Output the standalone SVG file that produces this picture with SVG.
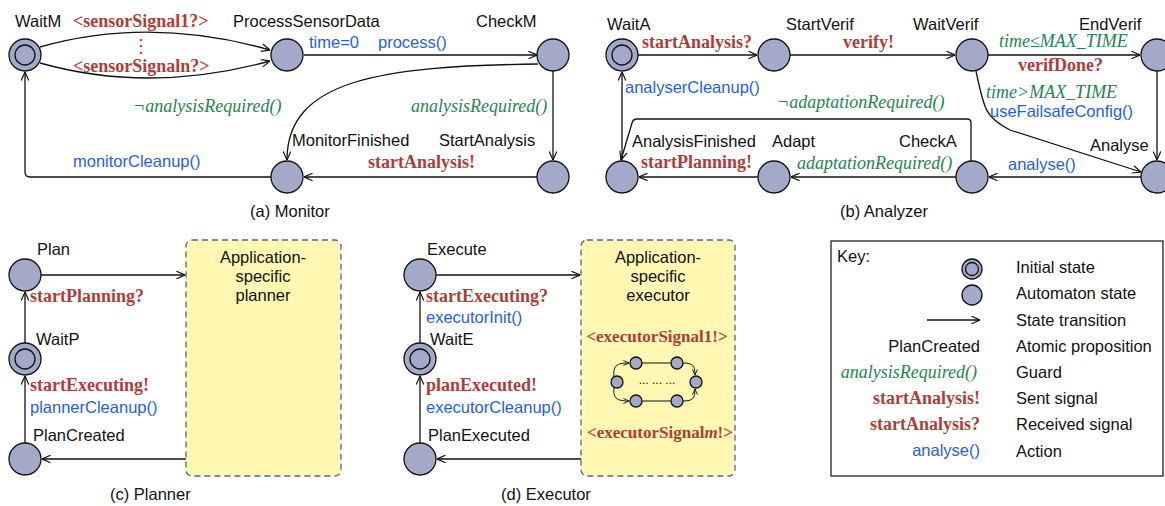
<svg xmlns="http://www.w3.org/2000/svg" width="1165" height="506" viewBox="0 0 1165 506">
<style>
.st{fill:#a3aac9;stroke:#111;stroke-width:1.3}
.e{fill:none;stroke:#111;stroke-width:1.3;marker-end:url(#ah)}
.es{fill:none;stroke:#111;stroke-width:1;marker-end:url(#ahs)}
.ln{fill:none;stroke:#111;stroke-width:1}
.lb{font-family:"Liberation Sans",Arial,sans-serif;font-size:16.5px;fill:#111}
.act{font-family:"Liberation Sans",Arial,sans-serif;font-size:16.5px;fill:#1f5fe3}
.sig{font-family:"Liberation Serif","Times New Roman",serif;font-size:18px;font-weight:bold;fill:#b03c38}
.gd{font-family:"Liberation Serif","Times New Roman",serif;font-size:18px;font-style:italic;fill:#228551}
.box{fill:#fff7b2;stroke:#4c6a90;stroke-width:1.3;stroke-dasharray:6 4}
.mid{text-anchor:middle}
.end{text-anchor:end}
</style>
<defs>
<marker id="ah" viewBox="0 0 10 10" refX="10" refY="5" markerWidth="9" markerHeight="9" markerUnits="userSpaceOnUse" orient="auto">
<path d="M0.5,0.8 L10,5 L0.5,9.2" fill="none" stroke="#111" stroke-width="1.3"/>
</marker>
<marker id="ahs" viewBox="0 0 10 10" refX="10" refY="5" markerWidth="6" markerHeight="6" markerUnits="userSpaceOnUse" orient="auto">
<path d="M0.5,0.8 L10,5 L0.5,9.2" fill="none" stroke="#111" stroke-width="1.5"/>
</marker>
</defs>

<!-- (a) Monitor -->
<g id="WaitM"><circle class="st" cx="25" cy="55" r="16"/><circle class="st" cx="25" cy="55" r="10"/><text class="lb" x="15" y="27">WaitM</text></g>
<g id="ProcessSensorData"><circle class="st" cx="287" cy="55" r="16"/><text class="lb" x="233" y="27">ProcessSensorData</text></g>
<g id="CheckM"><circle class="st" cx="553" cy="55" r="16"/><text class="lb" x="476" y="27">CheckM</text></g>
<g id="StartAnalysis"><circle class="st" cx="553" cy="177" r="16"/><text class="lb" x="439" y="146">StartAnalysis</text></g>
<g id="MonitorFinished"><circle class="st" cx="287" cy="177" r="16"/><text class="lb" x="292" y="146">MonitorFinished</text></g>

<!-- (b) Analyzer -->
<g id="WaitA"><circle class="st" cx="622" cy="55" r="16"/><circle class="st" cx="622" cy="55" r="10"/><text class="lb" x="607" y="30">WaitA</text></g>
<g id="StartVerif"><circle class="st" cx="774" cy="55" r="16"/><text class="lb" x="786" y="30">StartVerif</text></g>
<g id="WaitVerif"><circle class="st" cx="972" cy="55" r="16"/><text class="lb" x="913" y="30">WaitVerif</text></g>
<g id="EndVerif"><circle class="st" cx="1157" cy="55" r="16"/><text class="lb" x="1079" y="30">EndVerif</text></g>
<g id="Analyse"><circle class="st" cx="1157" cy="177" r="16"/><text class="lb" x="1090" y="151">Analyse</text></g>
<g id="CheckA"><circle class="st" cx="972" cy="177" r="16"/><text class="lb" x="899" y="147">CheckA</text></g>
<g id="Adapt"><circle class="st" cx="774" cy="177" r="16"/><text class="lb" x="772" y="147">Adapt</text></g>
<g id="AnalysisFinished"><circle class="st" cx="622" cy="177" r="16"/><text class="lb" x="632" y="147">AnalysisFinished</text></g>

<!-- (c) Planner -->
<g id="Plan"><circle class="st" cx="25" cy="275" r="16"/><text class="lb" x="37" y="255">Plan</text></g>
<g id="WaitP"><circle class="st" cx="25" cy="359" r="16"/><circle class="st" cx="25" cy="359" r="10"/><text class="lb" x="36" y="345">WaitP</text></g>
<g id="PlanCreated"><circle class="st" cx="25" cy="459" r="16"/><text class="lb" x="33" y="441">PlanCreated</text></g>
<g id="Planner"><rect class="box" x="186" y="240" width="155" height="236" rx="6"/>
<text class="lb mid" x="263" y="263">Application-</text><text class="lb mid" x="263" y="282">specific</text><text class="lb mid" x="263" y="301">planner</text></g>

<!-- (d) Executor -->
<g id="Execute"><circle class="st" cx="420" cy="275" r="16"/><text class="lb" x="427" y="255">Execute</text></g>
<g id="WaitE"><circle class="st" cx="420" cy="359" r="16"/><circle class="st" cx="420" cy="359" r="10"/><text class="lb" x="430" y="345">WaitE</text></g>
<g id="PlanExecuted"><circle class="st" cx="420" cy="459" r="16"/><text class="lb" x="428" y="441">PlanExecuted</text></g>
<g id="Executor"><rect class="box" x="581" y="240" width="154" height="236" rx="6"/>
<text class="lb mid" x="658" y="263">Application-</text><text class="lb mid" x="658" y="282">specific</text><text class="lb mid" x="658" y="301">executor</text>
<text class="sig mid" x="657" y="342" style="font-size:17px">&lt;executorSignal1!&gt;</text>
<g id="inner-loop">
<circle class="st" cx="617" cy="382" r="6"/><circle class="st" cx="636" cy="363" r="6"/><circle class="st" cx="677" cy="363" r="6"/>
<circle class="st" cx="696" cy="382" r="6"/><circle class="st" cx="636" cy="401" r="6"/><circle class="st" cx="677" cy="401" r="6"/>
<path class="ln" d="M642,363 L671,363 M642,401 L671,401"/>
<path class="es" d="M614,377 C613,366 616,363 629,363"/>
<path class="es" d="M614,387 C613,398 616,401 629,401"/>
<path class="es" d="M683,363 C693,363 695,366 695,375"/>
<path class="es" d="M683,401 C693,401 695,398 695,389"/>
<text x="657" y="384" class="mid" style="font-family:'Liberation Sans',sans-serif;font-size:12px;fill:#111">... ... ...</text>
</g>
<text class="sig mid" x="660" y="438" style="font-size:17px">&lt;executorSignal<tspan font-style="italic">m</tspan>!&gt;</text></g>

<!-- Key -->
<g id="Key"><rect x="831" y="241" width="332" height="235" fill="#fff" stroke="#222" stroke-width="1.3"/>
<text class="lb" x="837" y="262">Key:</text>
<circle class="st" cx="972" cy="269" r="10"/><circle class="st" cx="972" cy="269" r="6.5"/>
<circle class="st" cx="972" cy="295" r="10"/>
<path class="e" d="M927,320 L980,320"/>
<text class="lb end" x="980" y="352">PlanCreated</text>
<text class="gd end" x="977" y="378">analysisRequired()</text>
<text class="sig end" x="980" y="404">startAnalysis!</text>
<text class="sig end" x="980" y="430">startAnalysis?</text>
<text class="act end" x="980" y="456">analyse()</text>
<text class="lb" x="1016" y="273">Initial state</text>
<text class="lb" x="1016" y="299">Automaton state</text>
<text class="lb" x="1016" y="326">State transition</text>
<text class="lb" x="1016" y="352">Atomic proposition</text>
<text class="lb" x="1016" y="378">Guard</text>
<text class="lb" x="1016" y="404">Sent signal</text>
<text class="lb" x="1016" y="430">Received signal</text>
<text class="lb" x="1016" y="457">Action</text></g>

<!-- connectors -->
<g id="connectors">
<path class="e" d="M40,47 Q150,16 270,50"/>
<path class="e" d="M40,63 Q150,94 270,61"/>
<path class="e" d="M304,55 L537,55"/>
<path class="e" d="M553,71 L553,160"/>
<path class="e" d="M538,64 C380,66 287,80 287,160"/>
<path class="e" d="M537,177 L304,177"/>
<path class="e" d="M271,177 L30,177 Q25,177 25,172 L25,72"/>

<path class="e" d="M638,55 L757,55"/>
<path class="e" d="M790,55 L955,55"/>
<path class="e" d="M988,55 L1140,55"/>
<path class="e" d="M1157,71 L1157,160"/>
<path class="e" d="M976,71 C984,110 986,118 1010,130 L1141,172"/>
<path class="e" d="M1141,177 L989,177"/>
<path class="e" d="M956,177 L791,177"/>
<path class="e" d="M758,177 L639,177"/>
<path class="e" d="M971,161 L971,123 Q971,119 967,119 L637,119 Q633,119 632,123 L621,160"/>
<path class="e" d="M622,161 L622,72"/>

<path class="e" d="M41,275 L185,275"/>
<path class="e" d="M186,459 L42,459"/>
<path class="e" d="M25,443 L25,376"/>
<path class="e" d="M25,343 L25,292"/>

<path class="e" d="M436,275 L580,275"/>
<path class="e" d="M581,459 L437,459"/>
<path class="e" d="M420,443 L420,376"/>
<path class="e" d="M420,343 L420,292"/>
</g>

<!-- edge labels -->
<g id="edge-labels">
<text class="sig" x="73" y="27">&lt;sensorSignal1?&gt;</text>
<text x="141" y="52" class="mid" style="font-family:'DejaVu Sans',sans-serif;font-size:18px;fill:#b03c38">⋮</text>
<text class="sig" x="73" y="72">&lt;sensorSignaln?&gt;</text>
<text class="act" x="309" y="48">time=0</text>
<text class="act" x="378" y="48">process()</text>
<text class="gd" x="411" y="112">analysisRequired()</text>
<text class="gd" x="133" y="112">¬analysisRequired()</text>
<text class="sig" x="368" y="168">startAnalysis!</text>
<text class="act" x="73" y="167">monitorCleanup()</text>

<text class="sig" x="642" y="48">startAnalysis?</text>
<text class="sig" x="843" y="48">verify!</text>
<text class="gd" x="999" y="47">time≤MAX_TIME</text>
<text class="sig" x="1018" y="71">verifDone?</text>
<text class="gd" x="986" y="98">time&gt;MAX_TIME</text>
<text class="act" x="990" y="117">useFailsafeConfig()</text>
<text class="act" x="625" y="93">analyserCleanup()</text>
<text class="gd" x="777" y="108">¬adaptationRequired()</text>
<text class="sig" x="641" y="168">startPlanning!</text>
<text class="gd" x="797" y="169">adaptationRequired()</text>
<text class="act" x="1008" y="170">analyse()</text>

<text class="sig" x="30" y="302">startPlanning?</text>
<text class="sig" x="30" y="391">startExecuting!</text>
<text class="act" x="30" y="413">plannerCleanup()</text>

<text class="sig" x="426" y="302">startExecuting?</text>
<text class="act" x="426" y="323">executorInit()</text>
<text class="sig" x="426" y="391">planExecuted!</text>
<text class="act" x="426" y="413">executorCleanup()</text>
</g>

<!-- captions -->
<g id="captions">
<text class="lb" x="250" y="217">(a) Monitor</text>
<text class="lb" x="840" y="217">(b) Analyzer</text>
<text class="lb" x="110" y="500">(c) Planner</text>
<text class="lb" x="501" y="500">(d) Executor</text>
</g>
</svg>
